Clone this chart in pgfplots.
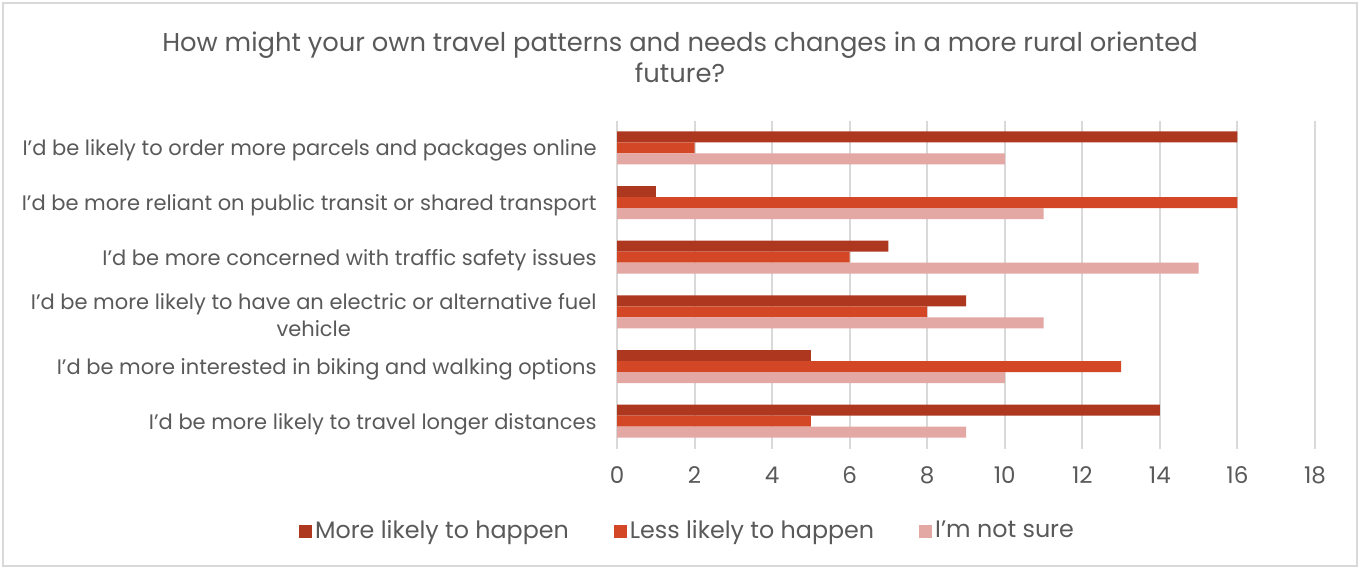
\documentclass[border=0pt]{standalone}
\usepackage{fontspec}
\setmainfont{Poppins}
\usepackage{pgfplots}
\pgfplotsset{compat=1.18}
\definecolor{cMore}{HTML}{AE3720}
\definecolor{cLess}{HTML}{D34726}
\definecolor{cNot}{HTML}{E3A8A3}
\definecolor{txt}{HTML}{595959}
\definecolor{gridc}{HTML}{D9D9D9}

\begin{document}
\begin{tikzpicture}
% frame, 1px = 0.5pt
\useasboundingbox (0,0) rectangle (679.5pt,284.5pt);
\draw[gridc,line width=0.8pt] (1.5pt,1.5pt) rectangle (678.5pt,283pt);
\node[txt,align=center,font=\fontsize{12.9}{15.5}\selectfont] at (340pt,256pt)
  {How might your own travel patterns and needs changes in a more rural oriented\\future?};
\begin{axis}[
  at={(308.5pt,60.25pt)}, anchor=south west,
  scale only axis, width=349pt, height=164pt,
  xbar, bar width=5.5pt,
  xmin=0, xmax=18, xtick={0,2,...,18},
  ymin=-0.5, ymax=5.5, y dir=reverse,
  ytick={0,...,5},
  yticklabels={
    I’d be likely to order more parcels and packages online,
    I’d be more reliant on public transit or shared transport,
    I’d be more concerned with traffic safety issues,
    {I’d be more likely to have an electric or alternative fuel\\vehicle},
    I’d be more interested in biking and walking options,
    I’d be more likely to travel longer distances},
  yticklabel style={align=center, anchor=east, inner sep=0pt, xshift=-10pt, yshift=-1.5pt,
    font=\fontsize{10.5}{13.5}\selectfont, text=txt},
  xticklabel style={inner sep=0pt, yshift=-9pt, font=\fontsize{11.5}{13}\selectfont, text=txt},
  /pgf/number format/assume math mode=true,
  axis line style={draw=none}, major tick length=0pt,
  xmajorgrids, major grid style={gridc, line width=1pt},
  legend style={at={(0.1017,-0.2515)}, anchor=center, draw=none, fill=none,
    legend columns=-1, font=\fontsize{11.9}{13}\selectfont, text=txt,
    /tikz/every even column/.append style={column sep=21pt},
    nodes={inner sep=1.5pt}},
  legend image code/.code={\fill[#1] (0pt,-3.25pt) rectangle (6.5pt,3.25pt);},
]
\addplot[fill=cMore, draw=none, bar shift=5.5pt] coordinates {(16,0) (1,1) (7,2) (9,3) (5,4) (14,5)};
\addplot[fill=cLess, draw=none, bar shift=0pt] coordinates {(2,0) (16,1) (6,2) (8,3) (13,4) (5,5)};
\addplot[fill=cNot, draw=none, bar shift=-5.5pt] coordinates {(10,0) (11,1) (15,2) (11,3) (10,4) (9,5)};
\legend{More likely to happen, Less likely to happen, I'm not sure}
\end{axis}
\end{tikzpicture}
\end{document}
